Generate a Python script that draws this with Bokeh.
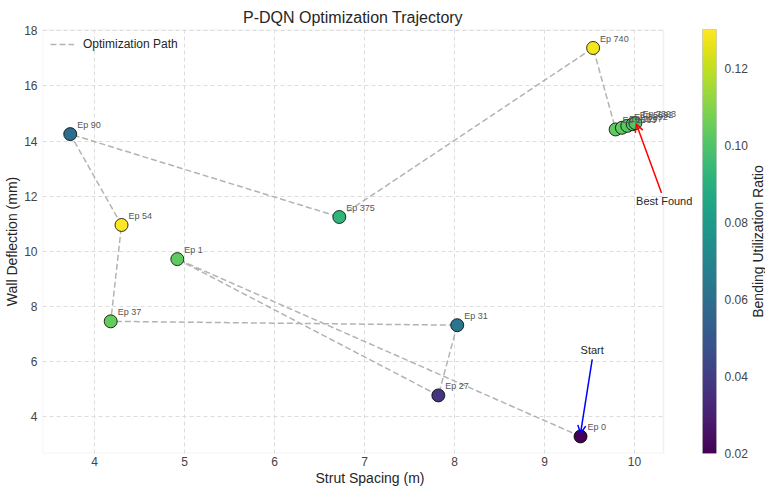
import numpy as np
from bokeh.plotting import figure
from bokeh.models import (Range1d, ColumnDataSource, LabelSet, Label, Arrow, OpenHead,
                          BoxAnnotation, PrintfTickFormatter)
from bokeh.core.properties import value
from bokeh.transform import linear_cmap
from bokeh.palettes import Viridis256
from bokeh.layouts import row
from bokeh.embed import file_html
from bokeh.resources import INLINE

# ---- data ----
episodes = [0, 1, 27, 31, 37, 54, 90, 375, 740, 1563, 2297, 3892, 5892, 7393]
strut_spacing = [9.40, 4.92, 7.82, 8.03, 4.18, 4.30, 3.73, 6.72, 9.54, 9.79, 9.86, 9.92, 9.98, 10.01]
wall_deflection = [3.27, 9.71, 4.76, 7.31, 7.45, 10.95, 14.25, 11.24, 17.38, 14.42, 14.48, 14.55, 14.61, 14.65]
utilization = [0.020, 0.103, 0.037, 0.063, 0.104, 0.130, 0.059, 0.092, 0.128, 0.103, 0.103, 0.102, 0.102, 0.101]
ep_labels = ["Ep %d" % e for e in episodes]

x_ticks = [4, 5, 6, 7, 8, 9, 10]
y_ticks = [4, 6, 8, 10, 12, 14, 16, 18]
cbar_ticks = [0.02, 0.04, 0.06, 0.08, 0.10, 0.12]
util_low, util_high = 0.02, 0.13

start_text = (9.53, 6.40)
start_arrow = (9.53, 6.07, 9.40, 3.38)
best_text = (10.33, 11.82)
best_arrow = (10.30, 12.11, 10.02, 14.62)

# ---- layout constants (pixels) ----
FONT = "Liberation Sans"
X0, X1 = 3.422, 10.322
Y0, Y1 = 2.65, 18.05
LEFT, TOP, BOTTOM = 42, 29, 35
FW_VIS, FH = 621, 424          # visible plot box
EXTRA = 34                     # room to the right of the box for overflowing labels
MAIN_W = LEFT + FW_VIS + EXTRA
TOTAL_H = TOP + FH + BOTTOM
CB_LEFT, CB_BAR, CB_RIGHT = 5, 15, 33
CB_W = CB_LEFT + CB_BAR + CB_RIGHT
LAB_W = 765 - MAIN_W - CB_W
X1_EXT = X1 + EXTRA * (X1 - X0) / FW_VIS

src = ColumnDataSource(dict(x=strut_spacing, y=wall_deflection, u=utilization, label=ep_labels))

p = figure(width=MAIN_W, height=TOTAL_H, x_range=Range1d(X0, X1_EXT), y_range=Range1d(Y0, Y1),
           output_backend="svg", toolbar_location=None, title="P-DQN Optimization Trajectory",
           min_border_left=LEFT, min_border_right=0, min_border_top=TOP, min_border_bottom=BOTTOM)
p.title.align = "left"
p.title.offset = FW_VIS / 2 - 110
p.title.standoff = 8
p.title.text_font = FONT
p.title.text_font_size = "16px"
p.title.text_font_style = "normal"
p.title.text_color = "#262626"

for ax in (p.xaxis[0], p.yaxis[0]):
    ax.axis_line_color = None
    ax.major_tick_line_color = None
    ax.minor_tick_line_color = None
    ax.major_tick_out = 0
    ax.major_tick_in = 0
    ax.major_label_text_font = FONT
    ax.major_label_text_font_size = "12px"
    ax.major_label_text_color = "#444444"
    ax.axis_label_text_font = FONT
    ax.axis_label_text_font_size = "14px"
    ax.axis_label_text_font_style = "normal"
    ax.axis_label_text_color = "#262626"
p.xaxis.major_label_standoff = 3
p.xaxis.axis_label_standoff = 1
p.yaxis.major_label_standoff = 5
p.yaxis.axis_label_standoff = 1
p.xaxis.ticker = x_ticks
p.yaxis.ticker = y_ticks
p.xaxis.axis_label = "Strut Spacing (m)"
p.yaxis.axis_label = "Wall Deflection (mm)"
p.outline_line_color = None
p.grid.grid_line_color = "#dddddd"
p.grid.grid_line_dash = "4 3"
p.grid.grid_line_width = 1

# blank strip right of the plot box (covers grid lines), and the plot box outline
p.add_layout(BoxAnnotation(left=X1, right=X1_EXT, bottom=Y0, top=Y1, fill_color="white",
                           fill_alpha=1, line_color=None, level="underlay"))
p.add_layout(BoxAnnotation(left=X0, right=X1, bottom=Y0, top=Y1, fill_alpha=0,
                           line_color="#cccccc", line_width=1.5, level="underlay"))

p.line("x", "y", source=src, line_dash="6 3", line_color="#999999", line_alpha=0.75,
       line_width=1.5, legend_label="Optimization Path")
p.scatter("x", "y", source=src, size=13,
          fill_color=linear_cmap("u", Viridis256, util_low, util_high),
          line_color="black", line_width=0.8)

p.add_layout(LabelSet(x="x", y="y", text="label", source=src, x_offset=7, y_offset=6,
                      text_font=value(FONT), text_font_size="9px", text_color="#555555",
                      text_baseline="alphabetic"))

p.add_layout(Arrow(end=OpenHead(size=8, line_color="blue", line_width=1.5),
                   x_start=start_arrow[0], y_start=start_arrow[1],
                   x_end=start_arrow[2], y_end=start_arrow[3],
                   line_color="blue", line_width=1.5))
p.add_layout(Label(x=start_text[0], y=start_text[1], text="Start", text_align="center",
                   text_baseline="middle", text_font=FONT, text_font_size="11px",
                   text_color="#262626"))
p.add_layout(Arrow(end=OpenHead(size=8, line_color="red", line_width=1.5),
                   x_start=best_arrow[0], y_start=best_arrow[1],
                   x_end=best_arrow[2], y_end=best_arrow[3],
                   line_color="red", line_width=1.5))
p.add_layout(Label(x=best_text[0], y=best_text[1], text="Best Found", text_align="center",
                   text_baseline="middle", text_font=FONT, text_font_size="11px",
                   text_color="#262626"))

lg = p.legend[0]
lg.location = "top_left"
lg.border_line_color = None
lg.background_fill_alpha = 0
lg.margin = 8
lg.padding = 5
lg.glyph_height = 12
lg.label_height = 12
lg.glyph_width = 24
lg.label_standoff = 9
lg.label_text_font = FONT
lg.label_text_font_size = "12px"
lg.label_text_color = "#262626"

# ---- colour bar (its own small plot with a right axis for tick labels) ----
cb = figure(width=CB_W, height=TOTAL_H, x_range=Range1d(0, 1),
            y_range=Range1d(util_low, util_high),
            output_backend="svg", toolbar_location=None,
            x_axis_location=None, y_axis_location="right",
            min_border_left=CB_LEFT, min_border_right=CB_RIGHT,
            min_border_top=TOP, min_border_bottom=BOTTOM)
cb.grid.visible = False
cb.outline_line_color = "#cccccc"
cb.image(image=[np.linspace(util_low, util_high, 256).reshape(-1, 1)], x=0, y=util_low,
         dw=1, dh=util_high - util_low, palette=Viridis256)
ya = cb.yaxis[0]
ya.ticker = cbar_ticks
ya.formatter = PrintfTickFormatter(format="%.2f")
ya.axis_line_color = None
ya.major_tick_line_color = None
ya.minor_tick_line_color = None
ya.major_tick_out = 0
ya.major_tick_in = 0
ya.major_label_standoff = 8
ya.major_label_text_font = FONT
ya.major_label_text_font_size = "12px"
ya.major_label_text_color = "#444444"

# ---- colour bar title (narrow plot holding the rotated text) ----
lab = figure(width=LAB_W, height=TOTAL_H, x_range=Range1d(0, 1), y_range=Range1d(0, 1),
             output_backend="svg", toolbar_location=None,
             x_axis_location=None, y_axis_location=None,
             min_border_left=0, min_border_right=0, min_border_top=TOP, min_border_bottom=BOTTOM)
lab.grid.visible = False
lab.outline_line_color = None
lab.add_layout(Label(x=0.5, y=0.5, text="Bending Utilization Ratio", angle=np.pi / 2,
                     text_align="center", text_baseline="middle", text_font=FONT,
                     text_font_size="14px", text_color="#262626"))

layout = row(p, cb, lab)
open("out.html", "w").write(file_html(layout, INLINE))
